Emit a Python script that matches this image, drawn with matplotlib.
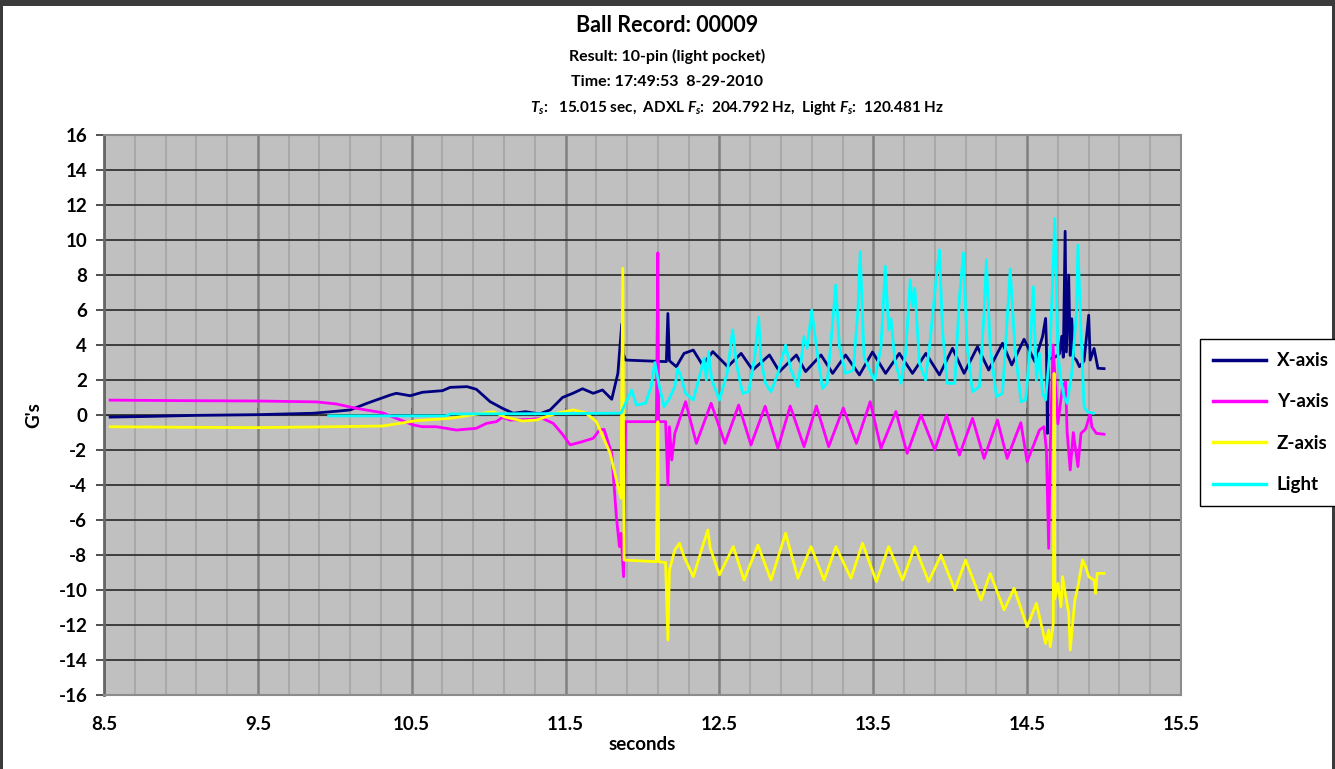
import numpy as np
import matplotlib
matplotlib.use("Agg")
import matplotlib.pyplot as plt
from matplotlib.ticker import FixedLocator, MultipleLocator
from matplotlib.patches import Rectangle

plt.rcParams['font.family'] = ['Lato', 'DejaVu Sans']
plt.rcParams['font.weight'] = 'bold'
plt.rcParams['axes.unicode_minus'] = False
plt.rcParams['mathtext.fontset'] = 'custom'
plt.rcParams['mathtext.it'] = 'Lato:italic:bold'
plt.rcParams['mathtext.rm'] = 'Lato:bold'
plt.rcParams['mathtext.bf'] = 'Lato:bold'

# ---- accelerometer X axis (G's) ----
t_x = [8.54, 8.8, 9.1, 9.5, 9.86, 10.03, 10.1, 10.21, 10.36, 10.40, 10.49, 10.57,
       10.70, 10.75, 10.86, 10.92, 11.01, 11.09, 11.16, 11.24, 11.33, 11.40, 11.48,
       11.55, 11.61, 11.68, 11.74, 11.80, 11.84, 11.865, 11.875, 11.89, 12.0, 12.155,
       12.165, 12.175, 12.22, 12.27, 12.33, 12.39,
       12.457, 12.554, 12.641, 12.716, 12.825, 12.89, 13.0, 13.06, 13.16, 13.236,
       13.32, 13.41, 13.495, 13.58, 13.669, 13.755, 13.842, 13.93, 14.015, 14.09,
       14.177, 14.25, 14.34, 14.40, 14.48, 14.55,
       14.60, 14.62, 14.625, 14.632, 14.64, 14.68, 14.71, 14.725, 14.735, 14.747,
       14.755, 14.77, 14.78, 14.79, 14.80, 14.82, 14.84, 14.87, 14.90, 14.91,
       14.935, 14.96, 15.0]
v_x = [-0.12, -0.08, -0.02, 0.02, 0.1, 0.23, 0.29, 0.67, 1.14, 1.24, 1.1, 1.3,
       1.39, 1.58, 1.62, 1.47, 0.76, 0.38, 0.1, 0.19, 0.06, 0.29, 1.0,
       1.25, 1.5, 1.24, 1.43, 0.9, 2.38, 5.2, 3.5, 3.14, 3.1, 3.05,
       5.8, 3.1, 2.76, 3.52, 3.71, 2.86,
       3.62, 2.76, 3.52, 2.57, 3.43, 2.48, 3.43, 2.48, 3.43, 2.38,
       3.43, 2.29, 3.6, 2.38, 3.52, 2.38, 3.52, 2.29, 3.81, 2.38,
       3.9, 2.57, 4.1, 2.86, 4.33, 3.05,
       4.48, 5.52, 4.2, -1.05, 3.2, 3.3, 3.5, 4.5, 3.3, 10.5,
       3.6, 8.0, 3.4, 5.5, 3.3, 3.14, 2.76, 3.1, 5.7, 3.14,
       3.8, 2.67, 2.65]

# ---- accelerometer Y axis (G's) ----
t_y = [8.54, 9.0, 9.5, 9.88, 10.01, 10.14, 10.31, 10.40, 10.51, 10.57, 10.66, 10.79,
       10.92, 10.985, 11.05, 11.09, 11.14, 11.27, 11.35, 11.42, 11.48, 11.53, 11.61,
       11.68, 11.72, 11.75, 11.80, 11.83, 11.85, 11.86, 11.877, 11.89, 12.09, 12.10,
       12.105, 12.15, 12.165, 12.175, 12.19, 12.21, 12.28, 12.35,
       12.446, 12.536, 12.625, 12.705, 12.797, 12.88, 12.96, 13.05, 13.13, 13.21,
       13.305, 13.39, 13.48, 13.55, 13.647, 13.72, 13.81, 13.90, 13.976, 14.06,
       14.145, 14.22, 14.307, 14.37, 14.459, 14.50,
       14.58, 14.61, 14.625, 14.64, 14.65, 14.668, 14.70, 14.73, 14.75, 14.76,
       14.78, 14.80, 14.83, 14.85, 14.88, 14.91, 14.92, 14.95, 15.0]
v_y = [0.85, 0.82, 0.8, 0.75, 0.63, 0.38, 0.13, -0.19, -0.57, -0.67, -0.67, -0.86,
       -0.76, -0.48, -0.38, -0.13, -0.29, -0.25, -0.19, -0.48, -1.1, -1.71, -1.52,
       -1.33, -0.86, -0.82, -2.19, -5.8, -7.52, -6.76, -9.24, -0.38, -0.38, 9.27,
       -0.38, -0.38, -4.0, -0.67, -2.57, -1.05, 0.76, -1.62,
       0.67, -1.62, 0.57, -1.71, 0.5, -1.9, 0.51, -1.81, 0.51, -1.81,
       0.4, -1.62, 0.76, -1.9, 0.2, -2.19, 0.0, -2.0, 0.0, -2.29,
       -0.19, -2.48, -0.29, -2.48, -0.44, -2.67,
       -0.86, -0.67, -2.0, -7.62, -2.0, 4.0, -0.5, 1.62, 1.9, -1.0,
       -3.14, -1.0, -2.95, -1.05, -0.8, 0.1, -0.67, -1.05, -1.1]

# ---- accelerometer Z axis (G's) ----
t_z = [8.54, 9.0, 9.5, 9.99, 10.31, 10.42, 10.53, 10.75, 10.96, 11.03, 11.11, 11.22,
       11.31, 11.44, 11.55, 11.63, 11.70, 11.79, 11.83, 11.86, 11.872, 11.88, 12.09,
       12.10, 12.105, 12.15, 12.165, 12.175, 12.21, 12.24, 12.27, 12.33, 12.39,
       12.425, 12.44,
       12.50, 12.59, 12.66, 12.75, 12.835, 12.93, 13.01, 13.095, 13.18, 13.257,
       13.355, 13.43, 13.52, 13.60, 13.69, 13.77, 13.86, 13.94, 14.03, 14.10,
       14.20, 14.26, 14.35, 14.415, 14.50,
       14.56, 14.62, 14.64, 14.65, 14.67, 14.675, 14.68, 14.70, 14.72, 14.73,
       14.75, 14.77, 14.78, 14.81, 14.83, 14.86, 14.88, 14.90, 14.935, 14.945,
       14.955, 15.0]
v_z = [-0.67, -0.7, -0.72, -0.67, -0.63, -0.48, -0.32, -0.19, 0.1, 0.19, -0.13, -0.34,
       -0.29, 0.1, 0.29, 0.13, -0.38, -2.19, -3.71, -4.76, 8.38, -8.29, -8.38,
       -0.38, -8.38, -8.43, -12.86, -8.86, -7.71, -7.33, -8.1, -9.24, -7.52,
       -6.57, -7.6,
       -9.14, -7.52, -9.43, -7.43, -9.43, -6.76, -9.33, -7.52, -9.43, -7.52,
       -9.33, -7.33, -9.52, -7.52, -9.43, -7.52, -9.52, -8.0, -10.0, -8.29,
       -10.57, -9.05, -11.14, -9.9, -12.1,
       -10.76, -13.05, -12.29, -13.24, -11.9, 2.38, -10.5, -9.62, -10.95, -9.24,
       -10.3, -11.33, -13.43, -10.57, -9.81, -8.29, -8.67, -9.24, -9.43, -10.19,
       -9.05, -9.05]

# ---- light sensor ----
t_l = [9.96, 10.72, 10.75, 11.45, 11.86, 11.89, 11.93, 11.96, 12.02, 12.056, 12.08,
       12.11, 12.14, 12.17, 12.21, 12.23, 12.25, 12.28, 12.33, 12.37, 12.40, 12.415,
       12.43, 12.45, 12.5, 12.55, 12.586, 12.61, 12.65, 12.69, 12.73, 12.755, 12.77,
       12.80, 12.835, 12.88, 12.93, 12.965, 13.01, 13.05, 13.07, 13.10, 13.13, 13.17,
       13.2, 13.23, 13.256, 13.28, 13.32, 13.37, 13.40, 13.415, 13.44, 13.495, 13.51,
       13.55, 13.578, 13.60, 13.615, 13.64, 13.68, 13.71, 13.74, 13.755, 13.77, 13.80,
       13.84, 13.87, 13.91, 13.93, 13.95, 13.98, 14.03, 14.06, 14.086, 14.11, 14.145,
       14.19, 14.22, 14.235, 14.26, 14.30, 14.34, 14.37, 14.39, 14.42, 14.46, 14.49,
       14.52, 14.54, 14.56, 14.58, 14.60, 14.62, 14.65, 14.68, 14.70, 14.72, 14.74,
       14.76, 14.79, 14.82, 14.83, 14.85, 14.87, 14.89, 14.93]
v_l = [-0.05, -0.05, 0.06, 0.08, 0.1, 0.67, 1.43, 0.57, 0.67, 1.62, 3.0,
       1.62, 0.48, 0.86, 1.62, 2.67, 2.2, 1.24, 0.86, 2.2, 3.24, 2.0,
       3.6, 2.0, 0.86, 2.38, 4.86, 2.95, 1.24, 1.33, 3.33, 5.58, 3.14,
       1.81, 1.33, 2.38, 4.0, 2.57, 1.62, 4.48, 3.81, 6.0, 3.9, 1.52,
       1.81, 4.67, 7.43, 3.9, 2.38, 2.57, 6.0, 9.33, 3.33, 2.19, 2.0,
       3.9, 8.5, 4.86, 5.5, 3.14, 1.81, 3.52, 7.71, 6.2, 7.24, 2.95,
       2.0, 4.29, 7.9, 9.43, 4.86, 1.81, 1.81, 6.76, 9.27, 3.9, 1.33,
       1.62, 5.8, 8.86, 3.9, 1.05, 1.24, 5.43, 8.35, 3.9, 0.76, 0.86,
       3.9, 7.33, 2.0, 3.52, 1.24, 0.86, 3.9, 11.24, 3.5, 2.0, 1.05,
       0.67, 2.38, 5.8, 9.71, 4.86, 0.48, 0.19, 0.1]

series_names = ["X-axis", "Y-axis", "Z-axis", "Light"]
series_colors = ["#000080", "#FF00FF", "#FFFF00", "#00FFFF"]

title_main = "Ball Record: 00009"
title_result = "Result: 10-pin (light pocket)"
title_time = "Time: 17:49:53  8-29-2010"
title_rates = r"$T_s$:   15.015 sec,  ADXL $F_s$:  204.792 Hz,  Light $F_s$:  120.481 Hz"

W, H = 1335, 769
FS = 13.5
fig = plt.figure(figsize=(W / 100, H / 100), dpi=100)
fig.patch.set_facecolor("#3b3b3b")
# white chart sheet inside the dark window frame
fig.patches.append(Rectangle((3 / W, 0), (W - 6) / W, (H - 6) / H,
                             transform=fig.transFigure, facecolor="white",
                             edgecolor="none", zorder=-10))

ax = fig.add_axes([104 / W, 1 - 695 / H, (1181 - 104) / W, (695 - 135) / H])
ax.set_facecolor("#C0C0C0")
ax.set_xlim(8.5, 15.5)
ax.set_ylim(-16, 16)

# grid
ax.xaxis.set_major_locator(FixedLocator(np.arange(8.5, 15.51, 1.0)))
ax.xaxis.set_minor_locator(FixedLocator([v for v in np.arange(8.7, 15.5, 0.2)
                                         if abs((v - 8.5) % 1.0) > 0.05 and abs((v - 8.5) % 1.0 - 1.0) > 0.05]))
ax.yaxis.set_major_locator(MultipleLocator(2))
ax.set_axisbelow(True)
ax.grid(True, axis='x', which='minor', color="#A9A9A9", lw=1.5, zorder=0.5)
ax.grid(True, axis='x', which='major', color="#808080", lw=1.8, zorder=0.6)
ax.grid(True, axis='y', which='major', color="#333333", lw=1.3, zorder=0.7)

for data_t, data_v, name, col in zip([t_x, t_y, t_z, t_l], [v_x, v_y, v_z, v_l],
                                     series_names, series_colors):
    ax.plot(data_t, data_v, color=col, lw=2.0, label=name, zorder=3,
            solid_joinstyle='round')

for s in ax.spines.values():
    s.set_color("#8c8c8c")
    s.set_linewidth(1.5)
ax.spines['left'].set_color("#666666")
ax.spines['left'].set_linewidth(2)

ax.tick_params(axis='y', which='major', direction='out', length=6, width=1.2,
               color="#333333", pad=6, labelsize=FS)
ax.tick_params(axis='x', which='both', length=0, pad=15, labelsize=FS)
ax.set_xticklabels([f"{v:.1f}" for v in np.arange(8.5, 15.51, 1.0)], fontweight='bold')
for lab in ax.get_yticklabels():
    lab.set_fontweight('bold')

# horizontal category axis crossing at zero
sec = ax.secondary_xaxis(0.5)
sec.set_xticks(np.arange(9.5, 15.51, 1.0))
sec.tick_params(direction='out', length=5, width=1.2, color="black", labelbottom=False,
                labeltop=False)
sec.spines['bottom'].set_color("black")
sec.spines['bottom'].set_linewidth(1.3)

ax.set_xlabel("seconds", fontsize=FS, fontweight='bold', labelpad=2)
ax.set_ylabel("G's", fontsize=FS, fontweight='bold', labelpad=12)

fig.text(667 / W, 1 - 25 / H, title_main, ha='center', va='center', fontsize=15.5,
         fontweight='bold')
fig.text(667 / W, 1 - 56 / H, title_result, ha='center', va='center', fontsize=11.5,
         fontweight='bold')
fig.text(667 / W, 1 - 82 / H, title_time, ha='center', va='center', fontsize=11.5,
         fontweight='bold')
fig.text(530 / W, 1 - 108 / H, title_rates, ha='left', va='center', fontsize=11,
         fontweight='bold')

leg = ax.legend(loc='upper left', bbox_to_anchor=(1200 / W, 1 - 339 / H),
                bbox_transform=fig.transFigure, frameon=True, fancybox=False,
                edgecolor="black", framealpha=1, fontsize=FS, handlelength=2.8,
                handletextpad=0.6, labelspacing=1.3, borderpad=0.7,
                borderaxespad=0)
leg.get_frame().set_linewidth(1.0)
for t in leg.get_texts():
    t.set_fontweight('bold')
for h in leg.get_lines():
    h.set_linewidth(2.5)

fig.savefig("out.png", dpi=100, facecolor=fig.get_facecolor())
